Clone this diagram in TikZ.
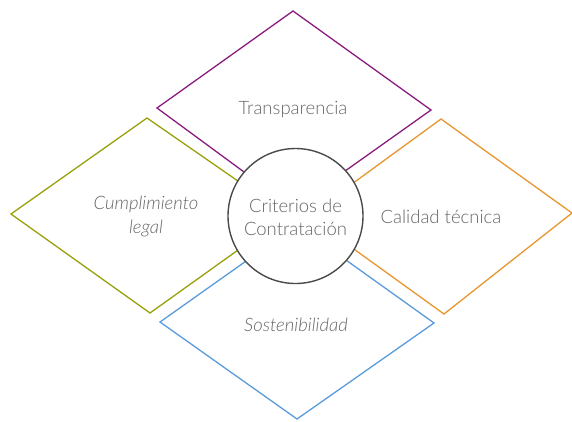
\documentclass[tikz,border=0pt]{standalone}
\usepackage{fontspec}
\setmainfont{Lato Light}
\definecolor{cpurple}{HTML}{8A1C7C}
\definecolor{colive}{HTML}{98A00A}
\definecolor{corange}{HTML}{E8962E}
\definecolor{cblue}{HTML}{5A9BDB}
\definecolor{cring}{HTML}{4A4A4A}
\definecolor{ctext}{HTML}{666666}
\tikzset{
  rhomb/.style={line width=1.3pt, line join=miter},
  lbl/.style={text=ctext, font=\fontsize{18.5}{23}\selectfont, align=center, inner sep=0pt},
  hub/.style={circle, draw=cring, line width=1.4pt, fill=white, minimum size=135pt, inner sep=0pt}
}
\begin{document}
\begin{tikzpicture}[x=1pt,y=-1pt]
\useasboundingbox (0,0) rectangle (572,421);
% top diamond
\draw[rhomb, cpurple] (293,11) -- (431,110) -- (293,208) -- (157,108) -- cycle;
% left diamond
\draw[rhomb, colive] (147,118) -- (287,215) -- (150,313) -- (11,214) -- cycle;
% right diamond
\draw[rhomb, corange] (441,119) -- (572,213) -- (444,314) -- (308,216) -- cycle;
% bottom diamond
\draw[rhomb, cblue] (297,225) -- (434,323) -- (297,419) -- (160,322) -- cycle;
% hub
\node[hub] (hub) at (295.5,216) {};
\node[lbl] (hubtxt) at (295.5,217) {Criterios de\\Contratación};
\node[lbl] (t1) at (293,110) {Transparencia};
\node[lbl, font=\fontsize{18.5}{24}\selectfont\itshape] (t2) at (146,216) {Cumplimiento\\legal};
\node[lbl] (t3) at (441,217) {Calidad técnica};
\node[lbl, font=\fontsize{18.5}{23}\selectfont\itshape] (t4) at (296,325) {Sostenibilidad};
\end{tikzpicture}
\end{document}
